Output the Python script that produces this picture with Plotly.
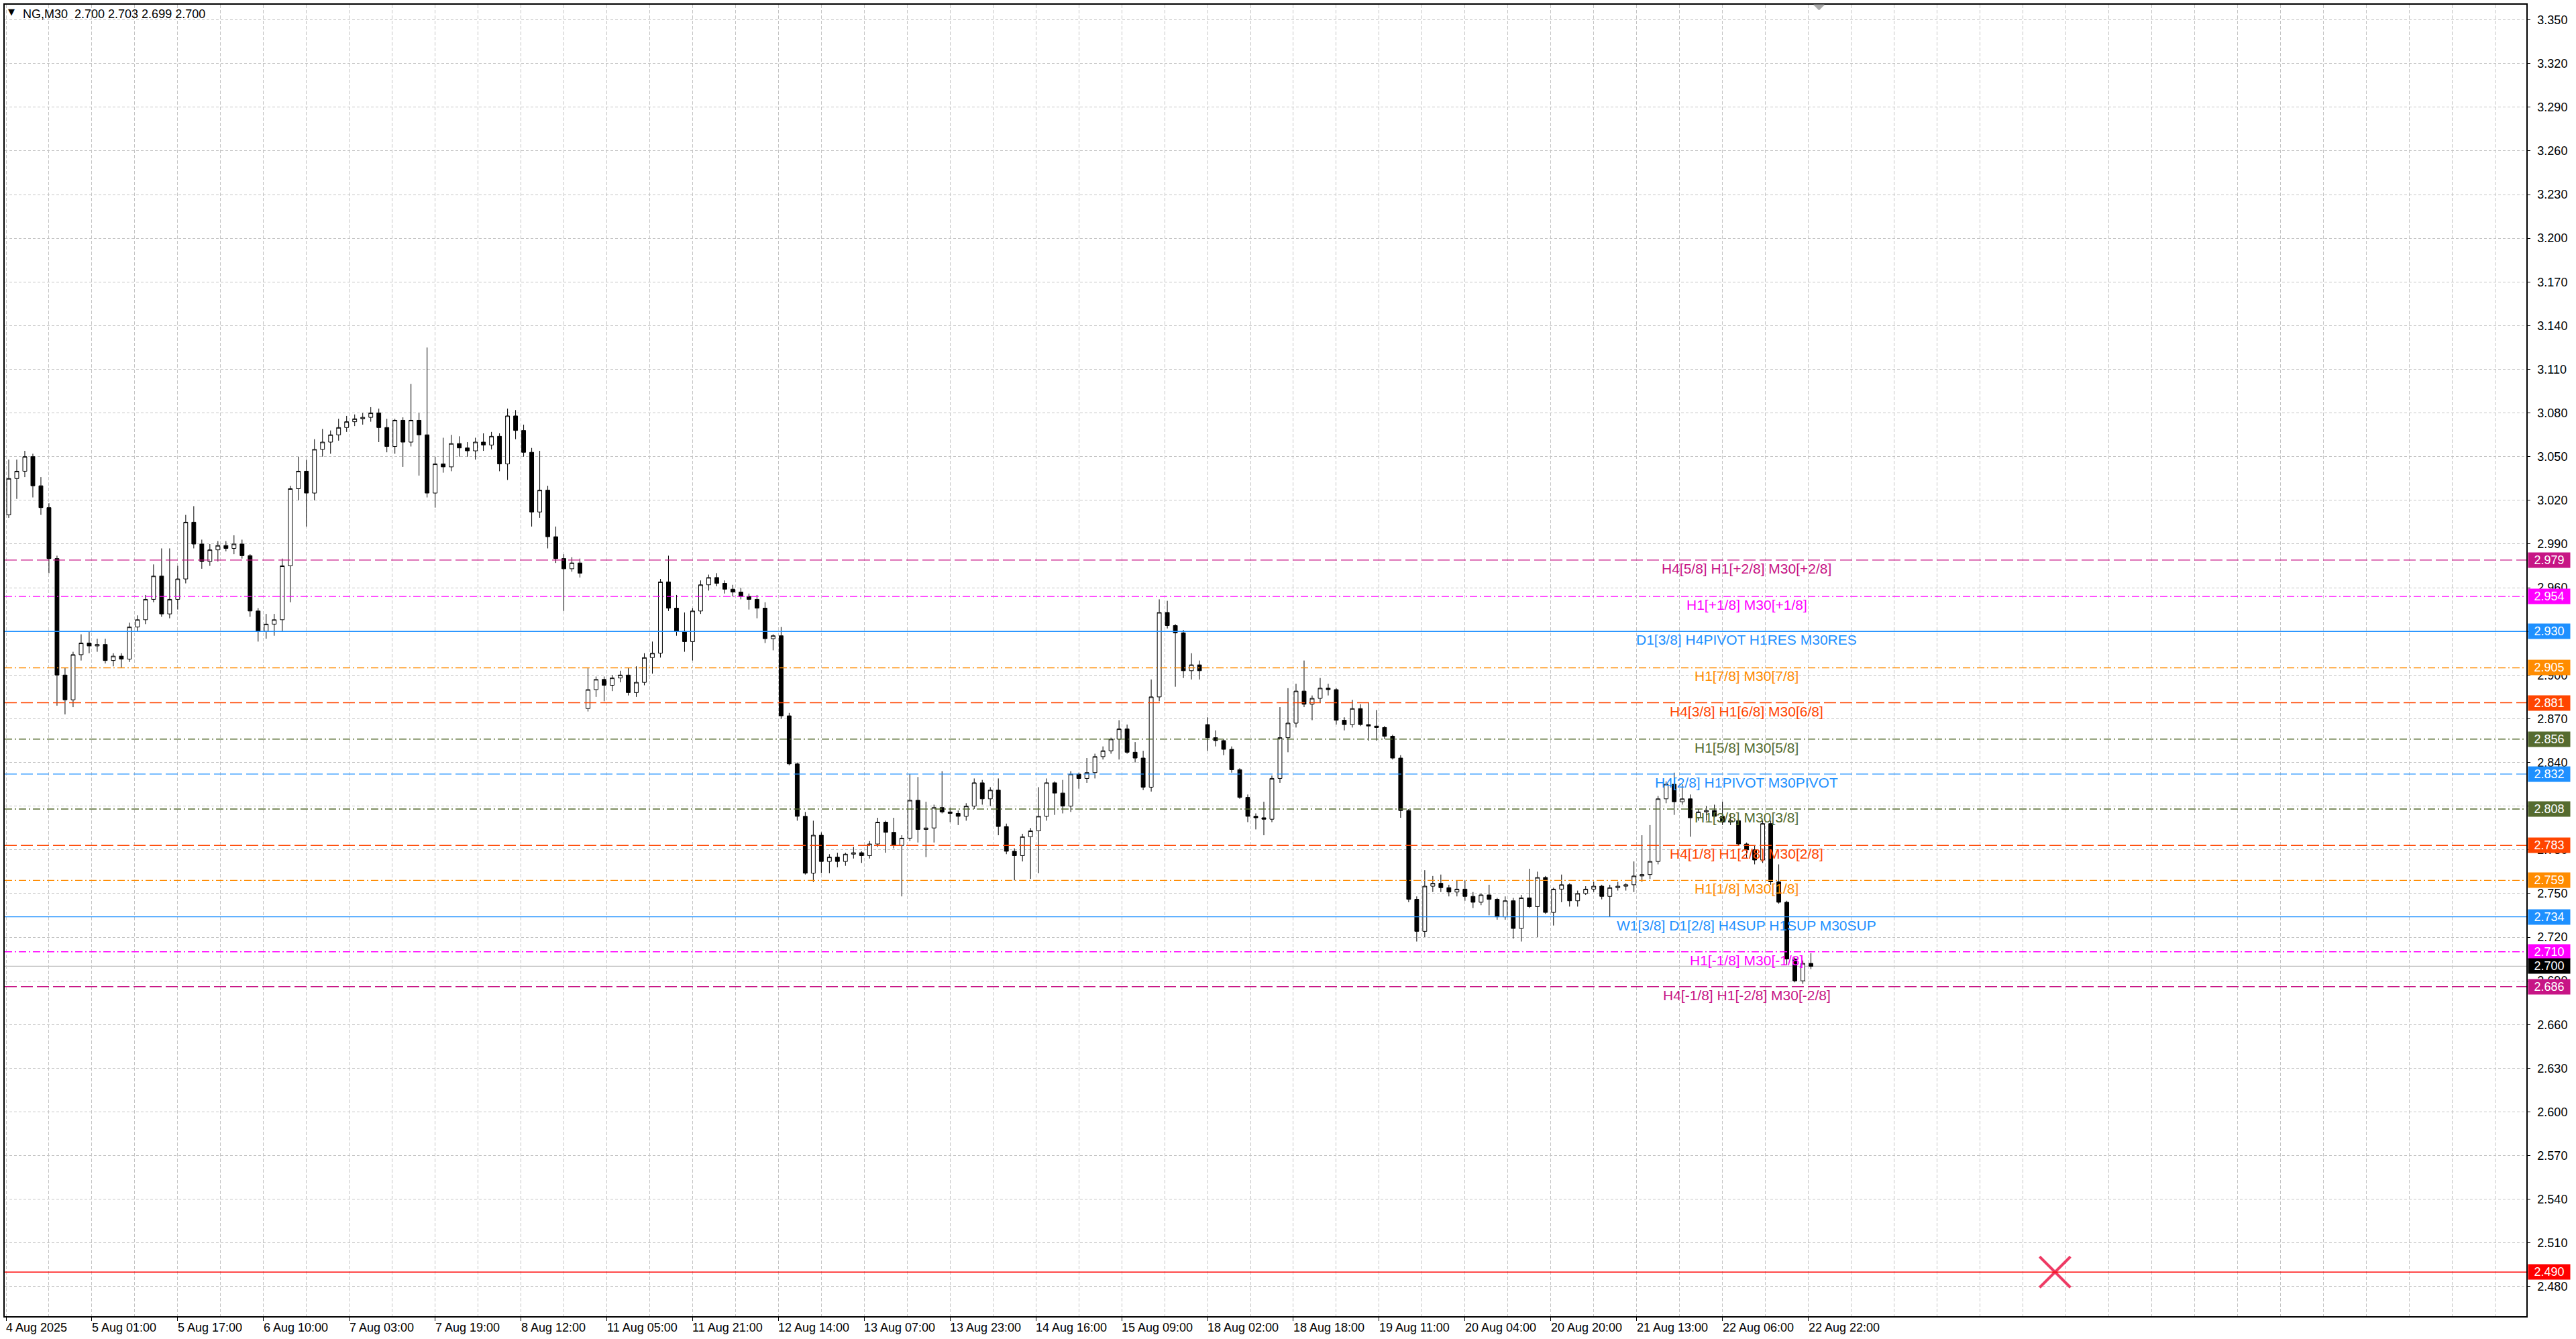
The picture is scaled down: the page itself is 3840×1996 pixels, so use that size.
import plotly.graph_objects as go

# ---------------- data (prices in thousandths; each candle = 3 M30 bars) ----------------
bar_open = [
    3010,3035,3040,3050,3030,3015,2980,2900,2883,2914,
    2922,2920,2921,2910,2913,2911,2933,2938,2952,2968,
    2942,2952,2966,3005,2990,2978,2986,2989,2987,2990,
    2982,2944,2930,2935,2938,2975,3028,3040,3025,3055,
    3060,3065,3070,3074,3076,3077,3080,3070,3057,3075,
    3060,3075,3065,3025,3045,3043,3059,3056,3054,3060,
    3058,3064,3045,3078,3068,3053,3012,3027,2995,2980,
    2973,2977,2877,2890,2897,2893,2898,2900,2888,2895,
    2912,2915,2964,2946,2930,2923,2944,2962,2967,2963,
    2959,2957,2954,2952,2946,2925,2927,2872,2839,2803,
    2764,2790,2772,2775,2772,2777,2778,2776,2784,2799,
    2792,2783,2788,2814,2794,2795,2809,2806,2805,2803,
    2810,2826,2815,2821,2796,2779,2776,2789,2793,2803,
    2826,2819,2810,2832,2829,2833,2844,2848,2856,2863,
    2847,2843,2823,2885,2943,2934,2929,2903,2907,2866,
    2857,2855,2849,2835,2816,2803,2802,2801,2829,2857,
    2867,2889,2880,2884,2891,2890,2869,2866,2877,2866,
    2865,2864,2858,2843,2807,2746,2724,2755,2757,2754,
    2751,2753,2748,2744,2749,2746,2734,2745,2726,2747,
    2741,2761,2737,2753,2756,2745,2750,2753,2755,2748,
    2754,2755,2756,2762,2763,2772,2815,2825,2813,2815,
    2802,2806,2807,2803,2799,2800,2784,2780,2773,2798,
    2758,2744,2705,2690,2702,
]
bar_high = [
    3048,3048,3054,3052,3036,3018,2982,2905,2916,2928,
    2930,2925,2925,2915,2915,2936,2941,2955,2976,2987,
    2987,2975,3010,3016,2993,2990,2992,2992,2996,2993,
    2983,2946,2942,2942,2980,3030,3050,3048,3062,3069,
    3068,3076,3078,3079,3080,3084,3083,3076,3076,3077,
    3100,3080,3125,3050,3063,3065,3064,3060,3063,3066,
    3067,3066,3083,3082,3072,3056,3054,3030,3002,2983,
    2981,2980,2905,2899,2899,2900,2903,2905,2906,2915,
    2923,2966,2982,2955,2943,2946,2965,2969,2970,2965,
    2962,2960,2956,2955,2950,2928,2933,2874,2840,2806,
    2800,2792,2777,2778,2778,2782,2779,2786,2802,2800,
    2802,2790,2832,2830,2813,2811,2834,2809,2807,2812,
    2829,2828,2823,2829,2798,2781,2791,2795,2823,2829,
    2827,2828,2834,2833,2843,2846,2851,2857,2869,2866,
    2854,2848,2897,2952,2951,2935,2931,2915,2910,2871,
    2862,2856,2851,2836,2818,2805,2813,2831,2878,2891,
    2894,2910,2886,2898,2894,2891,2871,2883,2880,2881,
    2876,2865,2859,2845,2808,2748,2766,2762,2763,2756,
    2759,2759,2751,2750,2756,2747,2748,2747,2749,2767,
    2765,2762,2754,2763,2757,2752,2755,2758,2756,2756,
    2758,2757,2772,2790,2797,2817,2827,2833,2825,2818,
    2808,2810,2811,2813,2805,2801,2785,2783,2800,2800,
    2770,2745,2706,2704,2709,
]
bar_low = [
    3008,3021,3036,3022,3010,2970,2879,2873,2878,2910,
    2915,2916,2908,2906,2905,2909,2930,2935,2950,2940,
    2939,2945,2963,2987,2973,2975,2978,2985,2983,2980,
    2940,2923,2925,2927,2930,2950,3020,3002,3020,3050,
    3052,3061,3067,3071,3072,3074,3060,3053,3052,3043,
    3057,3037,3022,3015,3039,3040,3050,3050,3048,3054,
    3055,3040,3034,3062,3050,3002,3008,2987,2977,2944,
    2971,2967,2875,2885,2882,2889,2895,2886,2885,2893,
    2901,2912,2944,2927,2916,2910,2942,2958,2961,2956,
    2954,2952,2945,2939,2922,2917,2870,2838,2800,2763,
    2758,2764,2764,2768,2769,2774,2771,2774,2782,2778,
    2781,2748,2786,2785,2775,2785,2805,2799,2797,2800,
    2808,2811,2810,2790,2777,2759,2772,2760,2764,2800,
    2804,2805,2806,2822,2826,2829,2842,2846,2842,2846,
    2840,2821,2820,2882,2932,2892,2898,2897,2897,2848,
    2851,2845,2833,2815,2799,2794,2790,2799,2826,2847,
    2864,2878,2869,2881,2886,2866,2862,2864,2865,2855,
    2855,2856,2842,2802,2744,2717,2720,2751,2751,2748,
    2748,2745,2740,2742,2735,2732,2732,2719,2717,2740,
    2720,2736,2728,2744,2741,2741,2749,2751,2746,2734,
    2752,2752,2751,2758,2760,2770,2812,2804,2811,2789,
    2800,2800,2802,2797,2797,2783,2774,2770,2771,2756,
    2743,2701,2689,2688,2698,
]
bar_close = [
    3035,3040,3050,3030,3015,2980,2900,2883,2914,2922,
    2920,2921,2910,2913,2911,2933,2938,2952,2968,2942,
    2952,2966,3005,2990,2978,2986,2989,2987,2990,2982,
    2944,2930,2935,2938,2975,3028,3040,3025,3055,3060,
    3065,3070,3074,3076,3077,3080,3070,3057,3075,3060,
    3075,3065,3025,3045,3043,3059,3056,3054,3060,3058,
    3064,3045,3078,3068,3053,3012,3027,2995,2980,2973,
    2977,2970,2890,2897,2893,2898,2900,2888,2895,2912,
    2915,2964,2946,2930,2923,2944,2962,2967,2963,2959,
    2957,2954,2952,2946,2925,2927,2872,2839,2803,2764,
    2790,2772,2775,2772,2777,2778,2776,2784,2799,2792,
    2783,2788,2814,2794,2795,2809,2806,2805,2803,2810,
    2826,2815,2821,2796,2779,2776,2789,2793,2803,2826,
    2819,2810,2832,2829,2833,2844,2848,2856,2863,2847,
    2843,2823,2885,2943,2934,2929,2903,2907,2903,2857,
    2855,2849,2835,2816,2803,2802,2801,2829,2857,2867,
    2889,2880,2884,2891,2890,2869,2866,2877,2866,2865,
    2864,2858,2843,2807,2746,2724,2755,2757,2754,2751,
    2753,2748,2744,2749,2746,2734,2745,2726,2747,2741,
    2761,2737,2753,2756,2745,2750,2753,2755,2748,2754,
    2755,2756,2762,2763,2772,2815,2825,2813,2815,2802,
    2806,2807,2803,2799,2800,2784,2780,2773,2798,2758,
    2744,2705,2690,2702,2700,
]

x_tick_bars = [0, 32, 64, 96, 128, 160, 192, 224, 256, 288, 320,
               352, 384, 416, 448, 480, 512, 544, 576, 608, 640, 672]
x_tick_labels = ["4 Aug 2025", "5 Aug 01:00", "5 Aug 17:00", "6 Aug 10:00",
                 "7 Aug 03:00", "7 Aug 19:00", "8 Aug 12:00", "11 Aug 05:00",
                 "11 Aug 21:00", "12 Aug 14:00", "13 Aug 07:00", "13 Aug 23:00",
                 "14 Aug 16:00", "15 Aug 09:00", "18 Aug 02:00", "18 Aug 18:00",
                 "19 Aug 11:00", "20 Aug 04:00", "20 Aug 20:00", "21 Aug 13:00",
                 "22 Aug 06:00", "22 Aug 22:00"]

y_tick_vals = [2.480, 2.510, 2.540, 2.570, 2.600, 2.630, 2.660, 2.690, 2.720, 2.750,
               2.780, 2.810, 2.840, 2.870, 2.900, 2.930, 2.960, 2.990, 3.020, 3.050,
               3.080, 3.110, 3.140, 3.170, 3.200, 3.230, 3.260, 3.290, 3.320, 3.350]

level_prices = [2.979, 2.954, 2.930, 2.905, 2.881, 2.856, 2.832,
                2.808, 2.783, 2.759, 2.734, 2.710, 2.686]
level_names = ["H4[5/8] H1[+2/8] M30[+2/8]", "H1[+1/8] M30[+1/8]",
               "D1[3/8] H4PIVOT H1RES M30RES", "H1[7/8] M30[7/8]",
               "H4[3/8] H1[6/8] M30[6/8]", "H1[5/8] M30[5/8]",
               "H4[2/8] H1PIVOT M30PIVOT", "H1[3/8] M30[3/8]",
               "H4[1/8] H1[2/8] M30[2/8]", "H1[1/8] M30[1/8]",
               "W1[3/8] D1[2/8] H4SUP H1SUP M30SUP", "H1[-1/8] M30[-1/8]",
               "H4[-1/8] H1[-2/8] M30[-2/8]"]
level_colors = ["#C71585", "#FF00FF", "#1E90FF", "#FF8C00", "#FF4500", "#556B2F", "#1E90FF",
                "#556B2F", "#FF4500", "#FF8C00", "#1E90FF", "#FF00FF", "#C71585"]
DASH = "18px,6px"
DASHDOT = "11px,4px,2px,4px"
level_dashes = [DASH, DASHDOT, "solid", DASHDOT, DASH, DASHDOT, DASH,
                DASHDOT, DASH, DASHDOT, "solid", DASHDOT, DASH]

current_price = 2.700
stop_price = 2.490
stop_marker_bar = 764

symbol_header = "NG,M30\u00a0\u00a02.700 2.703 2.699 2.700"

# ---------------- figure ----------------
FONT = "Liberation Sans, Arial, sans-serif"
W, H = 3840, 1996
ML, MR, MT, MB = 5, 74, 5, 34

candle_x = [3 * i + 1 for i in range(len(bar_close))]

fig = go.Figure()
fig.add_trace(go.Candlestick(
    x=candle_x,
    open=[v / 1000 for v in bar_open],
    high=[v / 1000 for v in bar_high],
    low=[v / 1000 for v in bar_low],
    close=[v / 1000 for v in bar_close],
    increasing=dict(line=dict(color="black", width=1), fillcolor="white"),
    decreasing=dict(line=dict(color="black", width=1), fillcolor="black"),
    whiskerwidth=0,
    showlegend=False,
    hoverinfo="skip",
))

# stop marker (red X)
fig.add_trace(go.Scatter(
    x=[stop_marker_bar], y=[stop_price], mode="markers",
    marker=dict(symbol="x-thin", size=46, line=dict(color="#EE3A64", width=4)),
    showlegend=False, hoverinfo="skip",
))

shapes = []
annotations = []

# level lines + text + right price boxes
for p, name, col, dsh in zip(level_prices, level_names, level_colors, level_dashes):
    shapes.append(dict(type="line", xref="paper", x0=0, x1=1, yref="y", y0=p, y1=p,
                       line=dict(color=col, width=1.4, dash=dsh), layer="above"))
    annotations.append(dict(x=649, y=p, xref="x", yref="y", text=name, showarrow=False,
                            xanchor="center", yanchor="top", yshift=1,
                            font=dict(family=FONT, size=21, color=col)))
    annotations.append(dict(x=1, y=p, xref="paper", yref="y", text=f"{p:.3f}",
                            showarrow=False, xanchor="left", yanchor="middle", xshift=2,
                            width=62, height=22, borderpad=0, bgcolor=col,
                            font=dict(family=FONT, size=18, color="white")))

# current price line and box
shapes.append(dict(type="line", xref="paper", x0=0, x1=1, yref="y",
                   y0=current_price, y1=current_price,
                   line=dict(color="#C0C0C0", width=1.2), layer="below"))
annotations.append(dict(x=1, y=current_price, xref="paper", yref="y",
                        text=f"{current_price:.3f}", showarrow=False, xanchor="left",
                        yanchor="middle", xshift=2, width=62, height=22, borderpad=0,
                        bgcolor="black", font=dict(family=FONT, size=18, color="white")))

# stop line and box
shapes.append(dict(type="line", xref="paper", x0=0, x1=1, yref="y",
                   y0=stop_price, y1=stop_price,
                   line=dict(color="#FF0000", width=1.6), layer="above"))
annotations.append(dict(x=1, y=stop_price, xref="paper", yref="y",
                        text=f"{stop_price:.3f}", showarrow=False, xanchor="left",
                        yanchor="middle", xshift=2, width=62, height=22, borderpad=0,
                        bgcolor="#FF0000", font=dict(family=FONT, size=18, color="white")))

# chart-shift triangle at top
shapes.append(dict(type="path", xref="x", yref="paper", xsizemode="pixel",
                   ysizemode="pixel", xanchor=676, yanchor=1,
                   path="M -8 0 L 8 0 L 0 -8 Z",
                   fillcolor="#A8A8A8", line=dict(color="#A8A8A8", width=1)))

# x-axis labels (left aligned at tick like the terminal)
for xb, lab in zip(x_tick_bars, x_tick_labels):
    annotations.append(dict(x=xb, y=0, xref="x", yref="paper", text=lab,
                            showarrow=False, xanchor="left", yanchor="top",
                            yshift=-5, xshift=-2,
                            font=dict(family=FONT, size=18, color="black")))

# header
annotations.append(dict(x=0, y=1, xref="paper", yref="paper", text="\u25BC",
                        showarrow=False, xanchor="left", yanchor="middle",
                        xshift=3, yshift=-10, font=dict(family="DejaVu Sans", size=13,
                                                        color="black")))
annotations.append(dict(x=0, y=1, xref="paper", yref="paper", text=symbol_header,
                        showarrow=False, xanchor="left", yanchor="middle",
                        xshift=25, yshift=-14, font=dict(family=FONT, size=18,
                                                         color="black")))

GRID = "#C4C4C4"
fig.update_layout(
    width=W, height=H, autosize=False,
    margin=dict(l=ML, r=MR, t=MT, b=MB, pad=0),
    paper_bgcolor="white", plot_bgcolor="white",
    shapes=shapes, annotations=annotations,
    showlegend=False,
    xaxis=dict(
        range=[-0.5, 939.75], rangeslider=dict(visible=False),
        tickmode="array", tickvals=x_tick_bars, showticklabels=False,
        ticks="outside", ticklen=5, tickcolor="black", tickwidth=1,
        showgrid=True, gridcolor=GRID, gridwidth=1, griddash="5px,3px",
        minor=dict(tickmode="linear", tick0=0, dtick=16, showgrid=True,
                   gridcolor=GRID, gridwidth=1, griddash="5px,3px", ticks=""),
        showline=True, linecolor="black", linewidth=1.5, mirror=True,
        zeroline=False, fixedrange=True,
    ),
    yaxis=dict(
        range=[2.4597, 3.3604], side="right",
        tickmode="array", tickvals=y_tick_vals, tickformat=".3f",
        ticks="outside", ticklen=4, tickcolor="black", ticklabelstandoff=7,
        tickfont=dict(family=FONT, size=18, color="black"),
        showgrid=True, gridcolor=GRID, gridwidth=1, griddash="4px,3px",
        showline=True, linecolor="black", linewidth=1.5, mirror=True,
        zeroline=False, fixedrange=True,
    ),
)

fig.write_html("out.html",
               config={"displayModeBar": False},
               post_script="document.body.style.margin='0';document.body.style.overflow='hidden';")
